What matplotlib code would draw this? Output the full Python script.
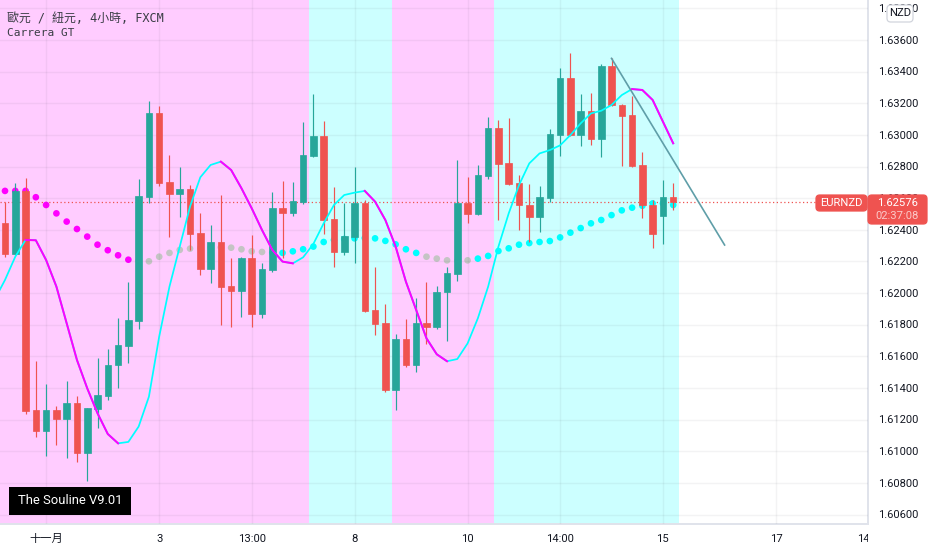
import numpy as np
import matplotlib
matplotlib.use("Agg")
import matplotlib.pyplot as plt
from matplotlib.patches import FancyBboxPatch, Rectangle
from matplotlib.transforms import Bbox

# ---------- data ----------
opens = [1.62441,1.62245,1.62646,1.61259,1.61128,1.61259,1.61204,1.61305,1.60991,1.61267,1.61349,1.61543,1.61668,1.61824,1.62610,1.63139,
         1.62700,1.62625,1.62658,1.62378,1.62152,1.62325,1.62045,1.62011,1.62220,1.61870,1.62146,1.62536,1.62509,1.62578,1.62869,1.62993,
         1.62467,1.62262,1.62357,1.62570,1.61893,1.61809,1.61389,1.61710,1.61548,1.61811,1.61786,1.62005,1.62123,1.62570,1.62502,1.62743,
         1.63044,1.62822,1.62694,1.62557,1.62481,1.62603,1.62999,1.63362,1.62999,1.63151,1.62976,1.63438,1.63191,1.63126,1.62810,1.62557,
         1.62489,1.62605]
highs = [1.62578,1.62694,1.62730,1.61571,1.61425,1.61288,1.61446,1.61352,1.61271,1.61588,1.61647,1.61841,1.62072,1.62722,1.63215,1.63185,
         1.62875,1.62800,1.62682,1.62504,1.62431,1.62618,1.62220,1.62230,1.62367,1.62188,1.62637,1.62711,1.62700,1.63082,1.63261,1.63086,
         1.62671,1.62568,1.62800,1.62589,1.62167,1.61931,1.61739,1.61834,1.61967,1.62072,1.62045,1.62167,1.62842,1.62736,1.62810,1.63111,
         1.63094,1.63109,1.62746,1.62687,1.62677,1.63039,1.63425,1.63520,1.63256,1.63263,1.63448,1.63484,1.63193,1.63248,1.62892,1.62588,
         1.62715,1.62694]
lows = [1.62230,1.62240,1.61234,1.61092,1.60970,1.61040,1.60955,1.60934,1.60810,1.61149,1.61326,1.61402,1.61560,1.61775,1.62568,1.62679,
        1.62357,1.62483,1.62273,1.62115,1.62066,1.61798,1.61788,1.61851,1.61788,1.61841,1.62136,1.62224,1.62490,1.62561,1.62861,1.62376,
        1.62163,1.62243,1.62193,1.61880,1.61735,1.61377,1.61261,1.61531,1.61501,1.61676,1.61771,1.61699,1.62079,1.62443,1.62495,1.62724,
        1.62462,1.62685,1.62399,1.62325,1.62384,1.62578,1.62867,1.62995,1.62930,1.62934,1.62858,1.63185,1.62805,1.62799,1.62477,1.62287,
        1.62310,1.62525]
closes = [1.62245,1.62646,1.61257,1.61128,1.61259,1.61204,1.61305,1.60991,1.61271,1.61354,1.61545,1.61670,1.61828,1.62614,1.63139,1.62696,
          1.62625,1.62658,1.62376,1.62152,1.62325,1.62041,1.62011,1.62220,1.61870,1.62150,1.62536,1.62509,1.62582,1.62875,1.62993,1.62462,
          1.62262,1.62361,1.62568,1.61889,1.61807,1.61389,1.61710,1.61548,1.61811,1.61788,1.62007,1.62125,1.62570,1.62502,1.62747,1.63044,
          1.62818,1.62689,1.62557,1.62481,1.62605,1.63004,1.63362,1.62999,1.63151,1.62976,1.63438,1.63187,1.63122,1.62805,1.62555,1.62373,
          1.62605,1.62576]
souline = [1.62083,1.62230,1.62336,1.62334,1.62209,1.62041,1.61809,1.61577,1.61398,1.61240,1.61109,1.61050,1.61059,1.61156,1.61345,1.61725,
           1.62041,1.62294,1.62547,1.62732,1.62810,1.62831,1.62778,1.62663,1.62536,1.62399,1.62273,1.62199,1.62188,1.62226,1.62311,1.62441,
           1.62557,1.62620,1.62635,1.62646,1.62578,1.62462,1.62294,1.62072,1.61893,1.61714,1.61613,1.61569,1.61583,1.61682,1.61841,1.62041,
           1.62294,1.62504,1.62683,1.62820,1.62883,1.62904,1.62934,1.62999,1.63073,1.63136,1.63153,1.63189,1.63252,1.63290,1.63284,1.63221,
           1.63084,1.62947]
souline_before_first = 1.61960
souline_down_runs = [(2, 11), (21, 28), (35, 43), (61, 65)]
dots = [1.62646,1.62646,1.62646,1.62606,1.62557,1.62504,1.62452,1.62405,1.62357,1.62306,1.62271,1.62239,1.62211,1.62203,1.62201,1.62230,
        1.62254,1.62273,1.62281,1.62285,1.62289,1.62289,1.62287,1.62277,1.62264,1.62260,1.62256,1.62254,1.62264,1.62277,1.62294,1.62323,
        1.62336,1.62342,1.62346,1.62348,1.62346,1.62330,1.62308,1.62277,1.62254,1.62230,1.62218,1.62207,1.62205,1.62207,1.62218,1.62235,
        1.62266,1.62283,1.62306,1.62316,1.62323,1.62329,1.62352,1.62382,1.62411,1.62441,1.62462,1.62493,1.62523,1.62540,1.62552,1.62567,
        1.62567,1.62557]
dot_magenta = (0, 12)
dot_gray_runs = [(13, 25), (41, 45)]
bands = [(-1.0, 29.6, "#ffccff"), (29.6, 37.6, "#ccffff"), (37.6, 47.6, "#ffccff"), (47.6, 65.6, "#ccffff")]
trend_x = [59, 70]
trend_y = [1.63484, 1.62304]
y_ticks = [1.606, 1.608, 1.610, 1.612, 1.614, 1.616, 1.618, 1.620, 1.622, 1.624,
           1.626, 1.628, 1.630, 1.632, 1.634, 1.636, 1.638]
x_ticks = [4, 15, 24, 34, 45, 54, 64, 75, 84.2]
x_labels = ["十一月", "3", "13:00", "8", "10", "14:00", "15", "17", "14:00"]
title = "歐元 / 紐元, 4小時, FXCM"
subtitle = "Carrera GT"
box_text = "The Souline V9.01"
last_price = "1.62576"
countdown = "02:37:08"
symbol = "EURNZD"
currency = "NZD"

# ---------- style ----------
GREEN, RED = "#26a69a", "#ef5350"
W, H = 932, 550
AX_R, AX_B = 868, 524
plt.rcParams["font.family"] = ["Roboto", "Noto Sans CJK TC", "DejaVu Sans"]

fig = plt.figure(figsize=(W / 100, H / 100), dpi=100)
ax = fig.add_axes([0, 1 - AX_B / H, AX_R / W, AX_B / H])
ax.set_xlim(-0.486, 83.95)
ax.set_ylim(1.60540, 1.63853)
for s in ["top", "left"]:
    ax.spines[s].set_visible(False)
for s in ["right", "bottom"]:
    ax.spines[s].set_color("#e0e3eb")
    ax.spines[s].set_linewidth(1.4)
ax.set_axisbelow(False)

for a, b, c in bands:
    ax.axvspan(a, b, color=c, lw=0, zorder=0)

ax.set_yticks(y_ticks)
ax.set_xticks(x_ticks[:-1])
ax.tick_params(length=0, labelleft=False, labelbottom=False)
ax.grid(True, color="#2a2e39", alpha=0.055, lw=1.0, zorder=1)

# last price line
ax.axhline(closes[-1], color=RED, lw=0.9, ls=(0, (1, 2)), zorder=1.5)

# dots
idx = np.arange(len(closes))
dots_arr = np.array(dots)
dcol = np.array(["#00ffff"] * len(dots), dtype=object)
dcol[dot_magenta[0]:dot_magenta[1] + 1] = "#ff00ff"
for a, b in dot_gray_runs:
    dcol[a:b + 1] = "#c4c4c4"
ax.scatter(idx, dots_arr, s=23, c=list(dcol), lw=0, zorder=2)

# candles
o, h, l, c = map(np.array, (opens, highs, lows, closes))
cols = [GREEN if cc >= oo else RED for oo, cc in zip(o, c)]
ax.vlines(idx, l, h, colors=cols, lw=0.85, zorder=3)
ax.bar(idx, np.abs(c - o), bottom=np.minimum(o, c), width=0.64, color=cols,
       edgecolor=cols, lw=0.5, zorder=4)

# souline
sl = np.array(souline)
ax.plot(np.r_[-1, idx], np.r_[souline_before_first, sl], color="#00ffff", lw=1.25, zorder=5, solid_joinstyle="round")
for a, b in souline_down_runs:
    ax.plot(idx[a:b + 1], sl[a:b + 1], color="#ff00ff", lw=1.45, zorder=5.5, solid_joinstyle="round")

# trend line
ax.plot(trend_x, trend_y, color="#5f9ea8", lw=1.2, zorder=6)

# ---------- text ----------
def px(x, y):
    return x / W, 1 - y / H

mono = ["DejaVu Sans Mono", "Noto Sans CJK TC"]
fig.text(*px(7, 18), title, family=mono, fontsize=8.6, color="#3a3d45", va="center", ha="left")
fig.text(*px(7, 33), subtitle, family=mono, fontsize=8, color="#3a3d45", va="center", ha="left")

# y labels
for v in y_ticks:
    yp = (v - ax.get_ylim()[0]) / (ax.get_ylim()[1] - ax.get_ylim()[0]) * AX_B
    fig.text(878 / W, (H - AX_B + yp - 0.7) / H, f"{v:.5f}", fontsize=8.0, color="#131722",
             va="center", ha="left")

# x labels
for t, lab in zip(x_ticks, x_labels):
    xp = (t + 0.486) / (83.95 + 0.486) * AX_R
    tx = fig.text(xp / W, 1 - 538.5 / H, lab, fontsize=8.1, color="#131722", va="center", ha="center",
                  fontweight="medium" if lab == "十一月" else "normal")
    tx.set_clip_box(Bbox([[0, 0], [AX_R, H]]))
    tx.set_clip_on(True)

# label boxes
def rect(x0, y0, x1, y1, fc, ec=None, z=10, rounded=False):
    if rounded:
        p = FancyBboxPatch((x0 / W, 1 - y1 / H), (x1 - x0) / W, (y1 - y0) / H,
                           boxstyle="round,pad=0,rounding_size=0.004", mutation_aspect=W / H,
                           transform=fig.transFigure, fc=fc, ec=ec or fc, lw=0.9, zorder=z)
    else:
        p = Rectangle((x0 / W, 1 - y1 / H), (x1 - x0) / W, (y1 - y0) / H,
                      transform=fig.transFigure, fc=fc, ec=ec or fc, lw=0, zorder=z)
    fig.add_artist(p)

rect(816, 195, 867, 211, RED, rounded=True)
rect(868, 195, 927, 224, RED, rounded=True)
rect(887, 5, 913, 22, "white", "#d1d4dc", rounded=True)
rect(9, 487, 131, 515, "black", "#222222")

fig.text(*px(841.5, 203.5), symbol, fontsize=8.1, color="white", va="center", ha="center", zorder=11)
fig.text(*px(897.5, 203.5), last_price, fontsize=8.1, color="white", va="center", ha="center", zorder=11)
fig.text(*px(897.5, 216), countdown, fontsize=8.1, color="#fbc9c8", va="center", ha="center", zorder=11)
fig.text(*px(900, 13.5), currency, fontsize=8.1, color="#131722", va="center", ha="center", zorder=11)
fig.text(*px(70, 501), box_text, fontsize=9.4, color="white", va="center", ha="center", zorder=11)

fig.savefig("out.png", dpi=100, facecolor="white")
